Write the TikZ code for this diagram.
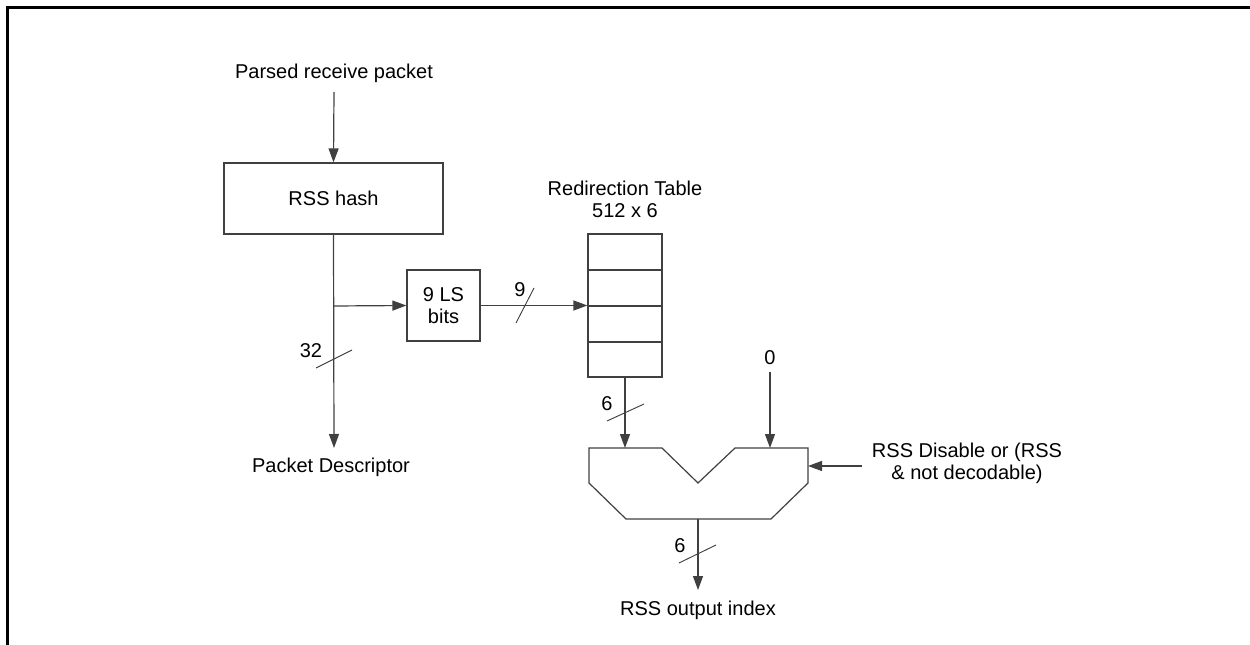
\documentclass[tikz,border=0pt]{standalone}
\usepackage{fontspec}
\setmainfont{Liberation Sans}
\usetikzlibrary{arrows.meta}
\begin{document}
\begin{tikzpicture}[x=0.75pt,y=-0.75pt,
  ln/.style={draw=black!75, line width=0.9pt},
  arr/.style={ln, -{Triangle[length=10.5pt,width=7.5pt]}},
  lbl/.style={inner sep=0pt, font=\fontsize{15}{16.5}\selectfont, align=center},
  blk/.style={ln, inner sep=0pt, font=\fontsize{15}{17}\selectfont, align=center},
  slash/.style={ln, line width=0.7pt}]
\useasboundingbox (0,0) rectangle (1250,645);
\draw[line width=1.6pt] (7.5,645) -- (7.5,7.5) -- (1250,7.5);

% texts
\node[lbl] (parsed) at (334,73) {Parsed receive packet};
\node[lbl] (pdesc) at (331,467) {Packet Descriptor};
\node[lbl] (tlabel) at (625,199) {Redirection Table\\512 x 6};
\node[lbl] (zero) at (770,358) {0};
\node[lbl] (dis) at (967,463.5) {RSS Disable or (RSS\\\& not decodable)};
\node[lbl] (outl) at (698,610) {RSS output index};

% boxes
\node[blk, minimum width=164.25pt, minimum height=53.25pt] (hash) at (333.5,198.5) {RSS hash};
\node[blk, minimum width=54.75pt, minimum height=53.25pt] (ls) at (443.5,305.5) {9 LS\\bits};
\node[blk, minimum width=55.5pt, minimum height=107.25pt] (tab) at (625,305.5) {};
\draw[ln] (588,270) -- (662,270) (588,306) -- (662,306) (588,342) -- (662,342);

% mux
\coordinate (m1) at (589,448);
\coordinate (m2) at (662,448);
\coordinate (m3) at (698,483);
\coordinate (m4) at (735,448);
\coordinate (m5) at (808,448);
\coordinate (m6) at (808,483);
\coordinate (m7) at (771,519);
\coordinate (m8) at (626,519);
\coordinate (m9) at (589,483);
\draw[ln] (m1) -- (m2) -- (m3) -- (m4) -- (m5) -- (m6) -- (m7) -- (m8) -- (m9) -- cycle;
\coordinate (inA) at (625,448);
\coordinate (inB) at (770,448);
\coordinate (sel) at (808,466);
\coordinate (mout) at (698,519);

% connectors
\coordinate (p0) at (334,92);
\draw[arr] (p0) -- (hash.north);
\coordinate (pd) at (334,448);
\draw[arr] (hash.south) -- (pd);
\coordinate (br) at (334,306);
\draw[arr] (br) -- (ls.west);
\draw[arr] (ls.east) -- (tab.west);
\draw[arr] (tab.south) -- (inA);
\coordinate (z0) at (770,372);
\draw[arr] (z0) -- (inB);
\coordinate (s0) at (862,466);
\draw[arr] (s0) -- (sel);
\coordinate (oe) at (698,590);
\draw[arr] (mout) -- (oe);

% bus slashes and widths
\draw[slash] (316,368) -- (352,350);
\node[lbl] (w32) at (311,351) {32};
\draw[slash] (516,323) -- (534,288);
\node[lbl] (w9) at (520,290) {9};
\draw[slash] (607,421) -- (644,404);
\node[lbl] (w6a) at (607,404) {6};
\draw[slash] (679,563) -- (716,545);
\node[lbl] (w6b) at (680,546) {6};
\end{tikzpicture}
\end{document}
